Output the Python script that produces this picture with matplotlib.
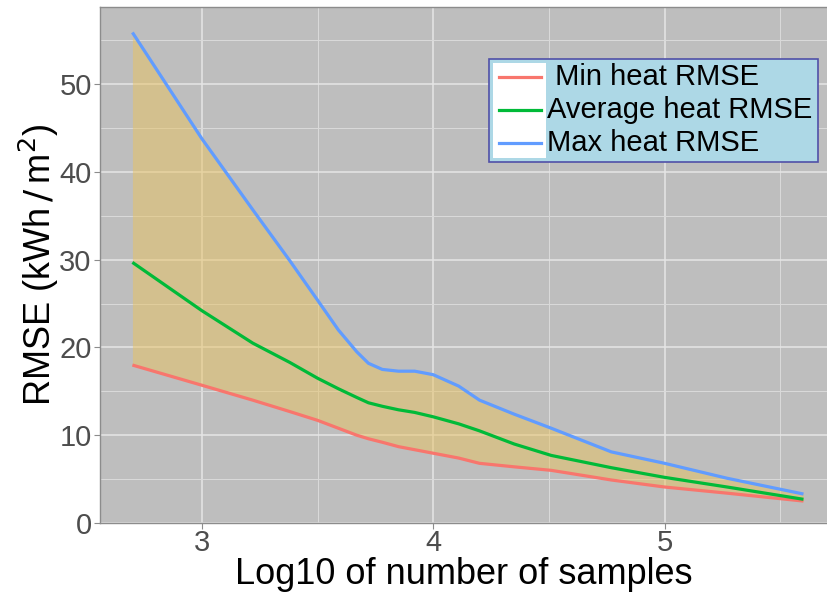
import numpy as np
import matplotlib
matplotlib.use("Agg")
import matplotlib.pyplot as plt
from matplotlib.patches import Rectangle
from matplotlib.lines import Line2D

plt.rcParams['font.family'] = ['Liberation Sans', 'DejaVu Sans']

# log10 of sample count and the RMSE envelope
log_samples = [2.70, 3.00, 3.22, 3.38, 3.50, 3.59, 3.67, 3.72, 3.78, 3.85,
               3.92, 4.00, 4.11, 4.20, 4.35, 4.51, 4.77, 5.00, 5.27, 5.60]
min_rmse = [18.0, 15.7, 14.0, 12.7, 11.7, 10.8, 10.0, 9.6, 9.2, 8.7,
            8.35, 7.95, 7.4, 6.8, 6.4, 6.0, 4.9, 4.1, 3.4, 2.5]
avg_rmse = [29.7, 24.2, 20.5, 18.3, 16.5, 15.3, 14.3, 13.7, 13.3, 12.9,
            12.6, 12.1, 11.3, 10.5, 9.0, 7.7, 6.3, 5.2, 4.1, 2.7]
max_rmse = [55.9, 43.8, 35.7, 29.9, 25.4, 22.0, 19.5, 18.2, 17.5, 17.3,
            17.3, 16.9, 15.6, 14.0, 12.4, 10.8, 8.1, 6.8, 5.1, 3.3]

labels = [' Min heat RMSE', 'Average heat RMSE', 'Max heat RMSE']
colors = ['#F8766D', '#00BA38', '#619CFF']

W, H = 828, 593
fig = plt.figure(figsize=(W / 100, H / 100), dpi=100)
ax = fig.add_axes([100 / W, 1 - 523 / H, (W - 100) / W, (523 - 7) / H])
ax.set_facecolor('#BEBEBE')

ax.set_xlim(2.56, 5.706)
ax.set_ylim(0, 58.8)
ax.set_xticks([3, 4, 5])
ax.set_xticks([3.5, 4.5, 5.5], minor=True)
ax.set_yticks([0, 10, 20, 30, 40, 50])
ax.set_yticks([5, 15, 25, 35, 45, 55], minor=True)
ax.grid(which='major', color='#E6E6E6', linewidth=1.1)
ax.grid(which='minor', color='#DADADA', linewidth=0.7)
ax.set_axisbelow(True)

ax.fill_between(log_samples, min_rmse, max_rmse, color='#E8C260', alpha=0.5,
                linewidth=0, zorder=2)
for ys, c in zip([min_rmse, avg_rmse, max_rmse], colors):
    ax.plot(log_samples, ys, color=c, linewidth=2.3, zorder=3,
            solid_capstyle='butt', solid_joinstyle='round')

for s in ax.spines.values():
    s.set_color('#8C8C8C')
    s.set_linewidth(1.0)
ax.tick_params(which='major', length=4, color='#8C8C8C', labelsize=21,
               labelcolor='#4D4D4D')
ax.tick_params(axis='x', which='major', pad=0)
ax.tick_params(axis='y', which='major', pad=2)
ax.tick_params(which='minor', length=0)

ax.set_xlabel('Log10 of number of samples', fontsize=26, va='baseline')
ax.xaxis.set_label_coords(0.5, -(584 - 523) / 516)
ax.set_ylabel(r'RMSE (kWh$\,/\,$m$^2$)', fontsize=26)
ax.yaxis.set_label_coords(-(100 - 61) / 728, 0.5)

# legend box with a white key column
def px_box(x0, y0, x1, y1):
    return (x0 / W, 1 - y1 / H), (x1 - x0) / W, (y1 - y0) / H

xy, w, h = px_box(489, 59, 818, 162)
fig.patches.append(Rectangle(xy, w, h, transform=fig.transFigure,
                             facecolor='#ADD8E6', edgecolor='#5050A8',
                             linewidth=1.2, zorder=5))
xy, w, h = px_box(493, 63, 546, 158)
fig.patches.append(Rectangle(xy, w, h, transform=fig.transFigure,
                             facecolor='white', edgecolor='none', zorder=6))
for i, (lab, c) in enumerate(zip(labels, colors)):
    yy = 1 - [77, 110, 143][i] / H
    fig.lines.append(Line2D([499 / W, 541 / W], [yy, yy], transform=fig.transFigure,
                            color=c, linewidth=2.3, zorder=7))
    fig.text(547 / W, yy, lab, fontsize=21, va='center', ha='left', zorder=7)

fig.savefig('out.png', dpi=100)
